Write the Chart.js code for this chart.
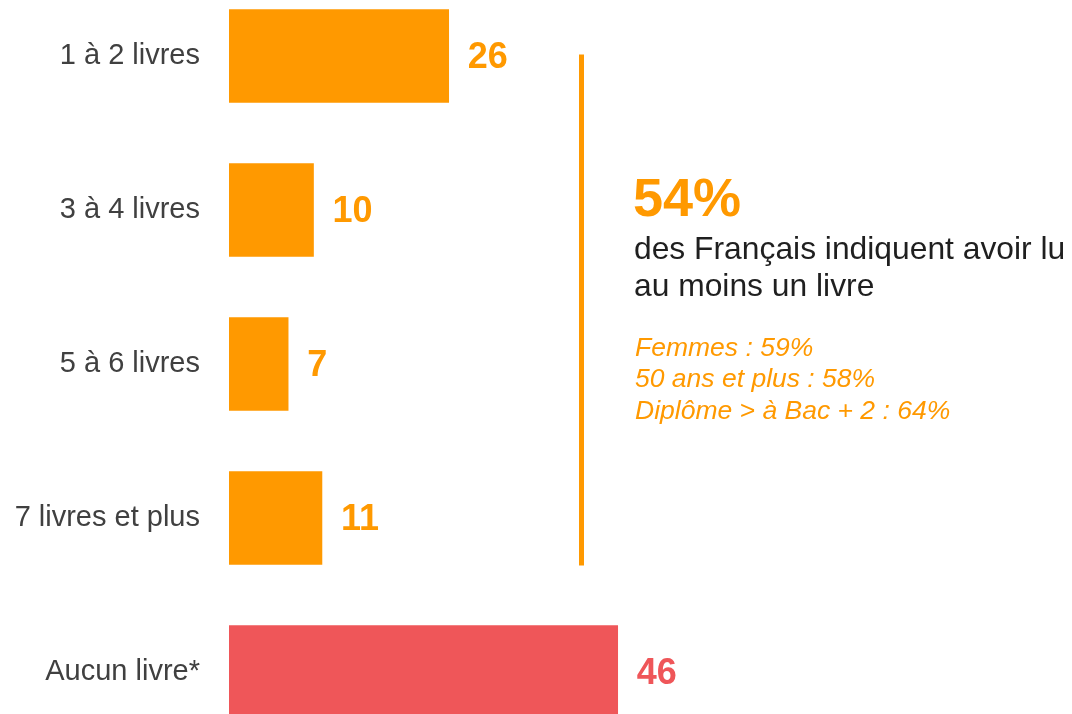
<!DOCTYPE html>
<html>
<head>
<meta charset="utf-8">
<script src="https://cdn.jsdelivr.net/npm/chart.js@4/dist/chart.umd.min.js"></script>
<style>
  html, body { margin: 0; padding: 0; background: #fff; overflow: hidden; width: 1072px; height: 714px; }
  #wrap { position: absolute; left: 0; top: -21.5px; width: 1072px; height: 770px; }
</style>
</head>
<body>
<div id="wrap"><canvas id="chart" width="1072" height="770"></canvas></div>
<script>
const categories = ["1 à 2 livres", "3 à 4 livres", "5 à 6 livres", "7 livres et plus", "Aucun livre*"];
const values = [26, 10, 7, 11, 46];
const barColors = ["#FF9900", "#FF9900", "#FF9900", "#FF9900", "#EF5659"];

const headline = "54%";
const headlineText = ["des Français indiquent avoir lu", "au moins un livre"];
const details = ["Femmes : 59%", "50 ans et plus : 58%", "Diplôme > à Bac + 2 : 64%"];

const FONT = "'Liberation Sans', Arial, sans-serif";

// value labels next to each bar
const valueLabels = {
    id: "valueLabels",
    afterDatasetsDraw(chart) {
        const ctx = chart.ctx;
        const meta = chart.getDatasetMeta(0);
        ctx.save();
        ctx.font = "bold 36px " + FONT;
        ctx.textBaseline = "middle";
        ctx.textAlign = "left";
        meta.data.forEach((bar, i) => {
            ctx.fillStyle = barColors[i];
            ctx.fillText(String(values[i]), bar.x + 19, bar.y + 2);
        });
        ctx.restore();
    }
};

// side note with the vertical rule
const sideNote = {
    id: "sideNote",
    afterDraw(chart) {
        const ctx = chart.ctx;
        const off = 21.5;
        ctx.save();
        ctx.fillStyle = "#FF9900";
        ctx.fillRect(579, 54 + off, 5, 511);

        ctx.textAlign = "left";
        ctx.textBaseline = "alphabetic";
        ctx.font = "bold 54px " + FONT;
        ctx.fillText(headline, 633, 215 + off);

        ctx.fillStyle = "#1f1f1f";
        ctx.font = "31.8px " + FONT;
        headlineText.forEach((t, i) => ctx.fillText(t, 634, 258 + off + i * 37));

        ctx.fillStyle = "#FF9900";
        ctx.font = "italic 26.5px " + FONT;
        details.forEach((t, i) => ctx.fillText(t, 635, 355 + off + i * 31.5));
        ctx.restore();
    }
};

new Chart(document.getElementById("chart"), {
    type: "bar",
    data: {
        labels: categories,
        datasets: [{
            data: values,
            backgroundColor: barColors,
            borderWidth: 0,
            barThickness: 93
        }]
    },
    options: {
        indexAxis: "y",
        responsive: false,
        animation: false,
        layout: { padding: { top: 0, bottom: 0, left: 0, right: 336 } },
        plugins: { legend: { display: false }, tooltip: { enabled: false } },
        scales: {
            x: { display: false, min: 0, max: 60 },
            y: {
                grid: { display: false, drawTicks: false },
                border: { display: false },
                ticks: {
                    padding: 29,
                    color: "#404040",
                    font: { family: FONT, size: 29 }
                },
                afterFit(scale) {
                    scale.width = 229;
                    scale.paddingTop = 0;
                    scale.paddingBottom = 0;
                }
            }
        }
    },
    plugins: [valueLabels, sideNote]
});
</script>
</body>
</html>
